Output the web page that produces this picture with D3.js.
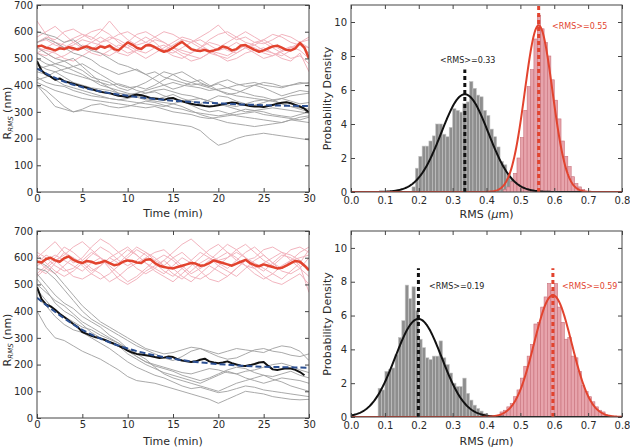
<!DOCTYPE html>
<html><head><meta charset="utf-8">
<script src="https://cdn.jsdelivr.net/npm/d3@7"></script>
<style>
body{margin:0;background:#fff}
svg{display:block}
text{font-family:"DejaVu Sans",sans-serif}
</style>
</head><body>
<svg id="c" width="630" height="448"></svg>
<script>
// ---------- axis ticks ----------
const timeTicks = [0, 5, 10, 15, 20, 25, 30];
const rTicks = [0, 100, 200, 300, 400, 500, 600, 700];
const rmsTicks = [0.0, 0.1, 0.2, 0.3, 0.4, 0.5, 0.6, 0.7, 0.8];
const densTicks = [0, 2, 4, 6, 8, 10];

const traceStep = 1;   // minutes between samples of single-cell traces
const meanStep = 0.5;  // minutes between samples of mean traces

// ---------- TOP LEFT ----------
const topPink = [
 [560,580,570,600,610,590,570,600,640,600,570,550,560,580,600,590,570,560,580,600,625,590,570,580,560,555,570,590,580,560,540],
 [520,540,560,550,530,540,560,580,560,540,520,530,550,570,560,540,530,520,540,560,550,530,520,540,560,570,550,530,540,550,520],
 [545,520,500,510,530,550,540,520,510,530,560,590,600,580,560,540,520,510,500,520,540,560,580,600,580,560,540,520,500,510,480],
 [580,600,620,590,560,540,520,510,530,550,540,520,500,520,540,560,580,570,550,530,510,500,520,540,550,530,520,510,530,560,570],
 [540,530,520,500,490,510,530,560,580,570,550,530,520,540,550,530,510,490,500,520,510,490,500,520,530,540,520,500,490,520,450],
 [560,570,550,540,560,580,600,610,590,560,540,560,580,560,530,510,500,520,540,570,590,600,580,560,550,570,590,580,560,550,540],
 [640,590,560,540,550,570,560,550,540,520,510,530,550,540,530,550,570,560,540,530,520,510,530,550,540,520,510,525,540,560,580],
 [520,510,530,560,575,590,580,560,570,590,600,580,560,545,530,520,540,560,570,550,530,540,560,540,520,500,510,530,545,530,500]
];
const topGrey = [
 [600,590,580,560,570,545,530,520,500,480,470,455,440,450,430,420,410,400,405,395,410,420,405,395,400,410,405,395,400,405,410],
 [560,575,560,540,520,510,495,470,455,440,450,460,440,420,400,385,395,410,420,400,380,365,370,385,400,390,375,360,370,380,375],
 [540,520,500,490,470,455,430,420,410,390,380,395,385,400,420,440,450,430,410,395,405,390,380,370,360,355,345,350,340,330,335],
 [520,500,480,470,455,440,420,400,390,380,370,360,350,345,355,365,350,340,330,345,360,355,340,330,325,335,345,330,320,315,310],
 [500,480,470,450,440,430,420,410,400,405,395,380,370,375,360,350,340,325,310,300,305,295,285,280,275,270,265,260,270,265,260],
 [480,460,450,430,410,400,390,385,380,370,365,370,380,390,400,410,400,395,390,380,385,390,400,405,410,400,395,390,400,410,405],
 [450,440,420,400,390,380,370,360,350,345,350,360,370,380,385,375,365,360,350,340,330,325,320,330,340,345,340,330,320,310,300],
 [430,410,400,395,380,370,360,355,350,345,340,335,330,325,320,330,340,345,350,340,330,320,310,300,305,310,315,310,305,300,295],
 [410,395,380,370,360,350,345,340,335,330,325,320,315,320,310,300,295,290,280,275,280,285,290,295,300,290,285,280,275,270,280],
 [400,380,350,320,300,310,325,330,320,315,320,330,340,335,325,315,310,300,295,290,285,290,300,310,305,300,290,285,280,290,300],
 [400,360,320,310,300,305,300,295,290,285,280,275,270,265,260,255,250,245,230,200,175,185,200,210,215,220,215,210,205,200,195],
 [420,430,450,460,470,480,460,440,420,400,390,395,410,430,450,440,420,410,400,390,380,370,360,355,350,345,340,350,360,365,370],
 [460,470,480,490,500,470,440,410,390,370,360,355,345,340,335,330,320,305,290,280,270,260,255,250,245,250,255,260,270,280,285]
];
const topRedMean = [545,548,540,536,530,538,535,542,538,533,540,545,538,535,545,540,548,535,530,545,560,552,540,535,548,550,542,532,525,530,540,552,562,548,535,530,528,532,526,530,535,545,540,530,535,548,550,540,532,525,530,538,545,548,540,532,530,538,558,540,500];
const topBlackMean = [490,455,440,432,420,425,415,410,405,400,395,390,385,380,375,372,370,365,360,358,355,360,365,362,358,352,350,348,345,350,352,345,340,335,330,327,325,322,320,322,325,328,332,335,333,328,326,322,320,320,318,322,326,330,334,336,332,326,320,312,298];
const topFitTimes = [0,2.5,5,7.5,10,12.5,15,17.5,20,22.5,25,27.5,30];
const topFitValues = [462,420,392,373,360,350,342,336,332,328,325,323,322];

// ---------- BOTTOM LEFT ----------
const botPink = [
 [600,630,660,620,580,600,640,670,650,620,590,560,540,560,590,620,650,670,640,610,590,600,630,650,620,590,570,600,630,640,620],
 [560,540,580,620,600,570,540,520,540,570,600,630,610,580,550,530,560,590,620,600,570,550,530,560,590,610,580,550,540,560,600],
 [620,600,570,550,560,590,620,600,570,540,510,530,560,590,610,590,560,530,520,540,570,600,620,600,580,560,540,520,550,580,630],
 [580,610,590,560,530,520,540,570,600,620,640,610,580,560,540,570,600,580,550,520,510,530,560,590,560,530,510,500,520,540,500],
 [540,570,600,640,620,590,560,540,510,530,560,580,600,620,630,600,570,540,560,590,620,650,630,600,570,550,580,610,600,570,470],
 [610,580,550,530,550,580,610,640,620,590,570,590,620,600,570,540,520,550,580,600,580,560,590,620,640,610,580,560,590,620,640],
 [530,560,590,610,640,660,630,600,580,600,630,610,580,550,530,510,540,570,600,630,650,620,590,570,540,520,540,570,590,560,530],
 [590,560,540,570,600,580,550,570,600,580,610,640,620,590,570,600,620,590,560,580,600,620,600,570,560,580,600,620,610,590,560],
 [570,590,610,590,570,550,580,600,560,520,500,520,550,570,590,560,530,510,540,570,550,530,560,590,600,630,640,620,590,600,610]
];
const botGrey = [
 [590,570,540,500,460,420,390,360,340,320,300,280,260,250,240,245,255,265,260,250,240,250,260,255,250,245,260,270,265,250,215],
 [560,550,520,480,440,400,370,350,330,310,290,270,255,240,225,215,230,250,260,245,230,220,225,240,255,260,250,245,235,230,240],
 [540,500,460,430,410,380,360,340,310,290,260,230,210,200,190,180,170,165,175,185,180,170,165,175,180,190,200,205,195,180,170],
 [520,480,430,400,380,350,320,300,280,270,240,220,200,185,170,160,150,140,130,145,160,175,165,150,140,130,140,150,145,140,130],
 [480,440,400,380,360,340,330,310,295,280,260,240,220,190,165,150,140,130,120,110,100,115,130,140,150,160,145,135,120,110,100],
 [450,420,380,350,330,320,300,280,260,235,210,190,175,160,150,135,120,110,115,105,95,100,110,120,115,105,100,95,90,85,80],
 [400,340,300,290,270,250,235,220,200,180,155,140,135,130,120,110,100,90,80,70,55,70,85,100,95,90,80,75,70,68,70],
 [500,470,440,420,390,360,340,320,300,280,250,230,210,195,185,175,160,150,140,150,165,180,190,185,170,160,155,165,175,160,150]
];
const botRedMean = [585,582,595,600,590,585,598,605,592,585,580,588,585,578,582,588,580,572,575,585,590,588,582,580,592,594,580,570,565,562,560,565,570,575,580,578,570,572,580,590,585,580,575,570,578,585,592,580,572,568,575,570,565,560,562,570,580,588,585,570,553];
const botBlackMean = [490,445,425,418,405,390,378,365,352,340,322,315,308,302,298,292,285,278,270,262,252,245,240,238,235,232,228,225,226,230,228,220,215,212,210,212,218,222,212,208,205,208,212,205,200,196,195,198,202,208,210,195,182,180,183,186,185,180,172,160];
const botFitTimes = [0,2.5,5,7.5,10,12.5,15,17.5,20,22.5,25,27.5,30];
const botFitValues = [450,385,330,290,260,238,222,210,202,196,192,190,188];

// ---------- TOP RIGHT histograms ----------
const binWidth = 0.01;
const topGreyStart = 0.18;
const topGreyHeights = [0.3,1.4,2.1,2.7,2.7,3.0,3.3,4.0,4.0,3.4,3.25,3.8,4.9,4.8,4.7,5.2,5.3,6.5,6.1,5.7,5.6,4.8,4.5,3.7,3.25,2.65,1.8,1.6,1.1,0.7,0.5,0.3,0.2];
const topRedStart = 0.45;
const topRedHeights = [0.15,0.3,0.6,1.1,2.0,3.2,4.8,6.2,7.2,9.0,10.4,9.6,8.8,8.0,6.6,5.4,4.3,3.0,2.1,1.5,0.9,0.5,0.3,0.15];
const topFitMeans = [0.336, 0.554];
const topFitPeaks = [5.75, 9.8];
const topMeanLineTops = [7.2, 11.0];
const topLabels = ["<RMS>=0.33", "<RMS>=0.55"];

// ---------- BOTTOM RIGHT histograms ----------
const botGreyStart = 0.08;
const botGreyHeights = [1.7,1.6,2.7,2.8,2.9,3.7,4.7,5.7,7.8,7.0,7.7,6.3,4.6,4.1,3.5,3.4,3.6,3.6,4.5,3.5,3.1,2.6,2.0,1.8,1.8,2.3,1.4,1.0,0.7,0.5,0.35,0.2,0.1];
const botRedStart = 0.44;
const botRedHeights = [0.3,0.4,0.6,0.8,1.2,1.6,2.3,3.0,3.6,4.3,5.5,5.6,6.5,7.1,7.9,7.5,7.9,6.5,5.6,4.6,4.7,3.6,3.5,2.7,1.85,1.5,1.2,0.9,0.6,0.4,0.3,0.1];
const botFitMeans = [0.199, 0.596];
const botFitPeaks = [5.8, 7.2];
const botMeanLineTops = [8.8, 8.8];
const botLabels = ["<RMS>=0.19", "<RMS>=0.59"];

// ---------- styles ----------
const C = {
  frame: "#444", tick: "#444", text: "#2a2a2a",
  pink: "#f2b4be", grey: "#a0a0a0",
  red: "#e2432e", black: "#111", blue: "#2b4f92",
  barGrey: "#8e8e8e", barGreyEdge: "#c4c4c4",
  barRed: "#e7a4ac", barRedEdge: "#c9727c"
};

const svg = d3.select("#c");
let clipN = 0;

function axes(g, x, y, xt, yt, xf, yf, o, xPad) {
  const a1 = g.append("g").attr("transform", `translate(0,${o.y1})`)
    .call(d3.axisBottom(x).tickValues(xt).tickSize(-4).tickPadding(xPad).tickFormat(xf));
  const a2 = g.append("g").attr("transform", `translate(0,${o.y0})`)
    .call(d3.axisTop(x).tickValues(xt).tickSize(-4).tickFormat(""));
  const a3 = g.append("g").attr("transform", `translate(${o.x0},0)`)
    .call(d3.axisLeft(y).tickValues(yt).tickSize(-4).tickPadding(4).tickFormat(yf));
  const a4 = g.append("g").attr("transform", `translate(${o.x1},0)`)
    .call(d3.axisRight(y).tickValues(yt).tickSize(-4).tickFormat(""));
  [a1, a2, a3, a4].forEach(a => {
    a.attr("font-family", "DejaVu Sans, sans-serif").attr("font-size", 10);
    a.select(".domain").remove();
    a.selectAll(".tick line").attr("stroke", C.tick);
    a.selectAll(".tick text").attr("fill", C.text);
  });
  g.append("rect").attr("x", o.x0).attr("y", o.y0)
    .attr("width", o.x1 - o.x0).attr("height", o.y1 - o.y0)
    .attr("fill", "none").attr("stroke", C.frame).attr("stroke-width", 1);
}

function clip(o) {
  const id = "clip" + (clipN++);
  svg.append("clipPath").attr("id", id).append("rect")
    .attr("x", o.x0).attr("y", o.y0).attr("width", o.x1 - o.x0).attr("height", o.y1 - o.y0);
  return id;
}

function timePanel(o, pink, grey, redMean, blackMean, fitT, fitV, xLabelY) {
  const x = d3.scaleLinear().domain([0, 30]).range([o.x0, o.x1]);
  const y = d3.scaleLinear().domain([0, 700]).range([o.y1, o.y0]);
  const g = svg.append("g");
  const id = clip(o);
  const body = g.append("g").attr("clip-path", `url(#${id})`);
  const lt = step => d3.line().x((d, i) => x(i * step)).y(d => y(d));
  body.selectAll(null).data(pink).join("path")
    .attr("d", lt(traceStep)).attr("fill", "none").attr("stroke", C.pink).attr("stroke-width", 1);
  body.selectAll(null).data(grey).join("path")
    .attr("d", lt(traceStep)).attr("fill", "none").attr("stroke", C.grey).attr("stroke-width", 1).attr("opacity", 0.9);
  body.append("path").datum(redMean).attr("d", lt(meanStep))
    .attr("fill", "none").attr("stroke", C.red).attr("stroke-width", 2.5).attr("stroke-linejoin", "round");
  body.append("path").datum(blackMean).attr("d", lt(meanStep))
    .attr("fill", "none").attr("stroke", C.black).attr("stroke-width", 2).attr("stroke-linejoin", "round");
  const fitLine = d3.line().x((d, i) => x(fitT[i])).y(d => y(d)).curve(d3.curveMonotoneX);
  body.append("path").datum(fitV).attr("d", fitLine)
    .attr("fill", "none").attr("stroke", C.blue).attr("stroke-width", 2).attr("stroke-dasharray", "6,3");
  axes(g, x, y, timeTicks, rTicks, d3.format("d"), d3.format("d"), o, 3);
  g.append("text").attr("x", (o.x0 + o.x1) / 2).attr("y", xLabelY)
    .attr("text-anchor", "middle").attr("font-size", 11).attr("fill", C.text).text("Time (min)");
  const yl = g.append("text")
    .attr("transform", `translate(11,${o.labelY}) rotate(-90)`)
    .attr("text-anchor", "middle").attr("font-size", 11).attr("fill", C.text);
  yl.append("tspan").text("R");
  yl.append("tspan").attr("font-size", 7).attr("font-style", "italic").attr("dy", 2).text("RMS");
  yl.append("tspan").attr("dy", -2).text(" (nm)");
}

function histPanel(o, greyStart, greyH, redStart, redH, means, peaks, tops, labels, labelPos, xLabelY) {
  const x = d3.scaleLinear().domain([0, 0.8]).range([o.x0, o.x1]);
  const y = d3.scaleLinear().domain([0, 11]).range([o.y1, o.y0]);
  const g = svg.append("g");
  const id = clip(o);
  const body = g.append("g").attr("clip-path", `url(#${id})`);
  const bars = (start, hs, fill, edge) => body.append("g").selectAll("rect").data(hs).join("rect")
    .attr("x", (d, i) => x(start + i * binWidth))
    .attr("width", (d, i) => x(start + (i + 1) * binWidth) - x(start + i * binWidth))
    .attr("y", d => y(d)).attr("height", d => y(0) - y(d))
    .attr("fill", fill).attr("stroke", edge).attr("stroke-width", 0.6);
  bars(greyStart, greyH, C.barGrey, C.barGreyEdge);
  bars(redStart, redH, C.barRed, C.barRedEdge);
  const colors = [C.black, C.red];
  const xs = d3.range(0, 0.8001, 0.002);
  means.forEach((m, k) => {
    const sd = 1 / (peaks[k] * Math.sqrt(2 * Math.PI));
    const pts = xs.map(v => [v, peaks[k] * Math.exp(-0.5 * ((v - m) / sd) ** 2)]);
    body.append("path").datum(pts)
      .attr("d", d3.line().x(d => x(d[0])).y(d => y(d[1])))
      .attr("fill", "none").attr("stroke", colors[k]).attr("stroke-width", 2);
  });
  means.forEach((m, k) => {
    g.append("line").attr("x1", x(m)).attr("x2", x(m)).attr("y1", y(0)).attr("y2", y(tops[k]))
      .attr("stroke", colors[k]).attr("stroke-width", 3).attr("stroke-dasharray", "4,3");
  });
  axes(g, x, y, rmsTicks, densTicks, d3.format(".1f"), d3.format("d"), o, 5);
  labels.forEach((t, k) => {
    g.append("text").attr("x", labelPos[k][0]).attr("y", labelPos[k][1])
      .attr("font-size", 8).attr("fill", k === 0 ? "#222" : C.red).text(t);
  });
  g.append("text")
    .attr("transform", `translate(331,${(o.y0 + o.y1) / 2}) rotate(-90)`)
    .attr("text-anchor", "middle").attr("font-size", 11).attr("fill", C.text).text("Probability Density");
  const xl = g.append("text").attr("x", (o.x0 + o.x1) / 2).attr("y", xLabelY)
    .attr("text-anchor", "middle").attr("font-size", 11).attr("fill", C.text);
  xl.append("tspan").text("RMS (");
  xl.append("tspan").attr("font-style", "italic").text("\u03bc");
  xl.append("tspan").text("m)");
}

timePanel({x0: 37, x1: 309, y0: 5, y1: 192, labelY: 113},
  topPink, topGrey, topRedMean, topBlackMean, topFitTimes, topFitValues, 217);
timePanel({x0: 37, x1: 309, y0: 231, y1: 418, labelY: 340},
  botPink, botGrey, botRedMean, botBlackMean, botFitTimes, botFitValues, 445);
histPanel({x0: 351, x1: 622, y0: 5, y1: 192},
  topGreyStart, topGreyHeights, topRedStart, topRedHeights, topFitMeans, topFitPeaks, topMeanLineTops,
  topLabels, [[440, 63], [552, 29]], 218);
histPanel({x0: 351, x1: 622, y0: 231, y1: 417},
  botGreyStart, botGreyHeights, botRedStart, botRedHeights, botFitMeans, botFitPeaks, botMeanLineTops,
  botLabels, [[429, 289], [562, 289]], 445);
</script>
</body></html>
